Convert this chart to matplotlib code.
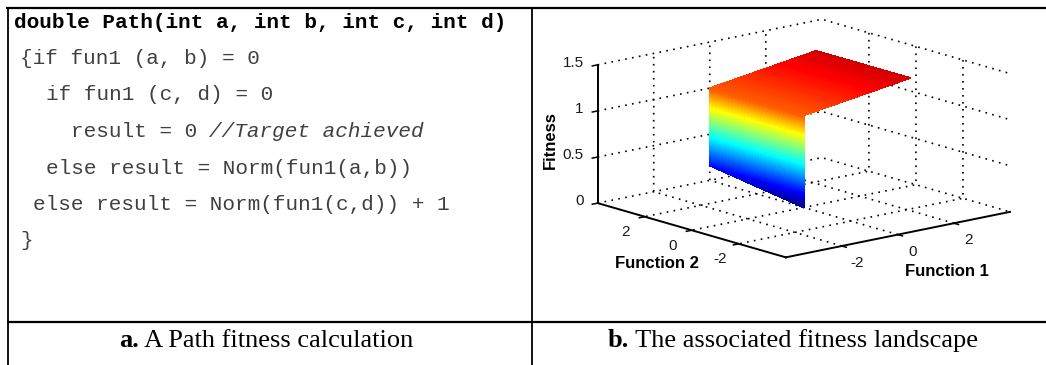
import numpy as np
import matplotlib
matplotlib.use("Agg")
import matplotlib.pyplot as plt
from matplotlib.lines import Line2D
from matplotlib.colors import Normalize, LinearSegmentedColormap
from mpl_toolkits.mplot3d import proj3d

plt.rcParams["axes.unicode_minus"] = False

W, H, DPI = 1046, 365, 100

# ---- content ---------------------------------------------------------------
code_header = "double Path(int a, int b, int c, int d)"
code_body = ["{if fun1 (a, b) = 0",
             "if fun1 (c, d) = 0",
             "result = 0",
             "else result = Norm(fun1(a,b))",
             "else result = Norm(fun1(c,d)) + 1",
             "}"]
code_indent = [0, 2, 4, 2, 1, 0]
code_comment = "//Target achieved"        # trails the third body line
caption_a = ("a.", "A Path fitness calculation")
caption_b = ("b.", "The associated fitness landscape")

# fitness landscape nodes: columns follow Function 1, rows follow Function 2
f1_nodes = [0.0, 0.0, 3.8]
f2_nodes = [0.0, 4.0]
fitness_nodes = [[0.00, 1.00, 1.17],
                 [0.16, 1.00, 1.17]]
func_ticks = [-2, 0, 2]
func_tick_labels = ["-2", "0", "2"]
fitness_ticks = [0, 0.5, 1, 1.5]
fitness_tick_labels = ["0", "0.5", "1", "1.5"]
func_lim = (-4, 4)
fitness_lim = (0, 1.5)
colour_lim = (0, 1.27)

fig = plt.figure(figsize=(W / DPI, H / DPI), dpi=DPI)
fig.patch.set_facecolor("white")


def fx(px):
    return px / W


def fy(py):
    return 1 - py / H


def rule(x0, y0, x1, y1, lw):
    fig.add_artist(Line2D([fx(x0), fx(x1)], [fy(y0), fy(y1)],
                          transform=fig.transFigure, color="black",
                          lw=lw, solid_capstyle="butt", zorder=5))


# ---- table frame -----------------------------------------------------------
rule(6, 7.5, W, 7.5, 1.6)
rule(7.5, 6.5, 7.5, H, 1.3)
rule(532, 6.5, 532, H, 1.3)
rule(7, 321.5, W, 321.5, 1.6)

# ---- code listing ----------------------------------------------------------
mono = "Liberation Mono"
code_size = 15.1
code_grey = "#404040"
adv = 0.6 * code_size * DPI / 72
fig.text(fx(14), fy(27.5), code_header, family=mono, weight="bold",
         size=code_size, color="black", va="baseline", ha="left")
x_body = 20.5
for i, (line, ind) in enumerate(zip(code_body, code_indent)):
    yb = 64 + 36.5 * i
    fig.text(fx(x_body + ind * adv), fy(yb), line, family=mono,
             size=code_size, color=code_grey, va="baseline", ha="left")
    if i == 2:
        fig.text(fx(x_body + (ind + len(line) + 1) * adv), fy(yb), code_comment,
                 family=mono, style="italic", size=code_size, color=code_grey,
                 va="baseline", ha="left")

# ---- captions --------------------------------------------------------------
serif = "Liberation Serif"
cap_size = 19
renderer = fig.canvas.get_renderer()


def caption(parts, cx, yb):
    bold = fig.text(0, fy(yb), parts[0], family=serif, weight="bold",
                    size=cap_size, va="baseline", ha="left")
    rest = fig.text(0, fy(yb), " " + parts[1], family=serif,
                    size=cap_size, va="baseline", ha="left")
    w1 = bold.get_window_extent(renderer).width
    w2 = rest.get_window_extent(renderer).width
    x0 = cx - (w1 + w2) / 2
    bold.set_x(fx(x0))
    rest.set_x(fx(x0 + w1))


caption(caption_a, 266, 347)
caption(caption_b, 793, 347)

# ---- fitness landscape -----------------------------------------------------
# MATLAB-style jet colour map
jet = LinearSegmentedColormap("mjet", {
    "red":   [(0, 0, 0), (3 / 8, 0, 0), (5 / 8, 1, 1), (7 / 8, 1, 1), (1, 0.5, 0.5)],
    "green": [(0, 0, 0), (1 / 8, 0, 0), (3 / 8, 1, 1), (5 / 8, 1, 1), (7 / 8, 0, 0), (1, 0, 0)],
    "blue":  [(0, 0.5, 0.5), (1 / 8, 1, 1), (3 / 8, 1, 1), (5 / 8, 0, 0), (1, 0, 0)],
})

grid_style = {"color": "black", "linewidth": 1.2, "linestyle": (0, (1.0, 3.2))}
ax = fig.add_axes([0.5, 0.0, 0.5, 1.0], projection="3d", proj_type="ortho")
ax.set_facecolor((1, 1, 1, 0))
ax.view_init(elev=14, azim=-130)
ax.set_box_aspect((1, 1, 0.487))


def subdivide(nodes, counts):
    seg = []
    for j in range(len(nodes) - 1):
        for t in np.linspace(0, 1, counts[j], endpoint=False):
            seg.append((j, t))
    seg.append((len(nodes) - 2, 1.0))
    return seg


def lerp(vals, seg, axis):
    vals = np.asarray(vals, float)
    return np.stack([(1 - t) * np.take(vals, j, axis=axis)
                     + t * np.take(vals, j + 1, axis=axis) for j, t in seg],
                    axis=axis)


# finer faces so the colour map runs smoothly over wall and plateau
col_seg = subdivide(f1_nodes, [80, 40])
row_seg = subdivide(f2_nodes, [40])
F1 = lerp(f1_nodes, col_seg, 0)
F2 = lerp(f2_nodes, row_seg, 0)
Z = lerp(lerp(fitness_nodes, col_seg, 1), row_seg, 0)
X, Y = np.meshgrid(F1, F2)
# colour of each face from its mean height
zface = 0.25 * (Z[:-1, :-1] + Z[1:, :-1] + Z[:-1, 1:] + Z[1:, 1:])
zface = np.pad(zface, ((0, 1), (0, 1)), mode="edge")
face_rgba = jet(Normalize(*colour_lim)(zface))
ax.plot_surface(X, Y, Z, facecolors=face_rgba, rstride=1, cstride=1,
                linewidth=0.5, antialiased=False, shade=False)

ax.set_xlim(func_lim)
ax.set_ylim(func_lim)
ax.set_zlim(fitness_lim)
ax.set_xticks(func_ticks)
ax.set_yticks(func_ticks)
ax.set_zticks(fitness_ticks)
ax.set_xticklabels([])
ax.set_yticklabels([])
ax.set_zticklabels([])
for axis in (ax.xaxis, ax.yaxis, ax.zaxis):
    axis.set_pane_color((1, 1, 1, 0))
    axis.pane.set_edgecolor((1, 1, 1, 0))
    axis.line.set_color("black")
    axis.line.set_linewidth(1.4)
    axis._axinfo["grid"].update(grid_style)
    axis._axinfo["tick"]["inward_factor"] = 0.3
    axis._axinfo["tick"]["outward_factor"] = 0.0
    axis._axinfo["tick"]["linewidth"] = {True: 1.1, False: 0.5}
    axis._axinfo["tick"]["color"] = "black"

# place the axes so the box corners land where the layout wants them
xl, yl, zl = func_lim, func_lim, fitness_lim
corners = np.array([[xl[0], yl[0], zl[0]], [xl[0], yl[1], zl[0]],
                    [xl[1], yl[0], zl[0]], [xl[0], yl[1], zl[1]],
                    [xl[1], yl[1], zl[1]], [xl[1], yl[0], zl[1]]])
targets = np.array([[787, 258], [598, 203], [1010, 212],
                    [598, 65], [820, 18], [1010, 74]], float)


def to_pixels(pts):
    M = ax.get_proj()
    px, py, _ = proj3d.proj_transform(pts[:, 0], pts[:, 1], pts[:, 2], M)
    disp = ax.transData.transform(np.column_stack([px, py]))
    return np.column_stack([disp[:, 0], H - disp[:, 1]])


for _ in range(3):
    fig.canvas.draw()
    P = to_pixels(corners)
    bb = ax.get_position()
    C = np.array([(bb.x0 + bb.x1) / 2 * W, H - (bb.y0 + bb.y1) / 2 * H])
    Q = P - C
    n = len(Q)
    A = np.zeros((2 * n, 3))
    A[0::2, 0] = Q[:, 0]
    A[0::2, 1] = 1
    A[1::2, 0] = Q[:, 1]
    A[1::2, 2] = 1
    s, tx, ty = np.linalg.lstsq(A, (targets - C).ravel(), rcond=None)[0]
    side = bb.width * W * s
    cx, cy = C[0] + tx, C[1] + ty
    ax.set_position([(cx - side / 2) / W, (H - cy - side / 2) / H,
                     side / W, side / H])

# tick labels, set beside the projected tick positions
fig.canvas.draw()
tick_kw = dict(family="Liberation Sans", size=11, color="#1a1a1a")
f1_pts = np.array([[t, yl[0], zl[0]] for t in func_ticks], float)
for (px, py), lab in zip(to_pixels(f1_pts), func_tick_labels):
    fig.text(fx(px + 15), fy(py + 17), lab, ha="center", va="center", **tick_kw)
f2_pts = np.array([[xl[0], t, zl[0]] for t in func_ticks], float)
for (px, py), lab in zip(to_pixels(f2_pts), func_tick_labels):
    fig.text(fx(px - 19), fy(py + 15.5), lab, ha="center", va="center", **tick_kw)
z_pts = np.array([[xl[0], yl[1], t] for t in fitness_ticks], float)
for (px, py), lab in zip(to_pixels(z_pts), fitness_tick_labels):
    fig.text(fx(px - 14), fy(py - 2), lab, ha="right", va="center", **tick_kw)

label_kw = dict(family="Liberation Sans", weight="bold", size=12, color="black")
fig.text(fx(550), fy(140), "Fitness", rotation=90, ha="center", va="center", **label_kw)
fig.text(fx(657), fy(264), "Function 2", ha="center", va="center", **label_kw)
fig.text(fx(947), fy(271), "Function 1", ha="center", va="center", **label_kw)

fig.savefig("out.png", dpi=DPI)
